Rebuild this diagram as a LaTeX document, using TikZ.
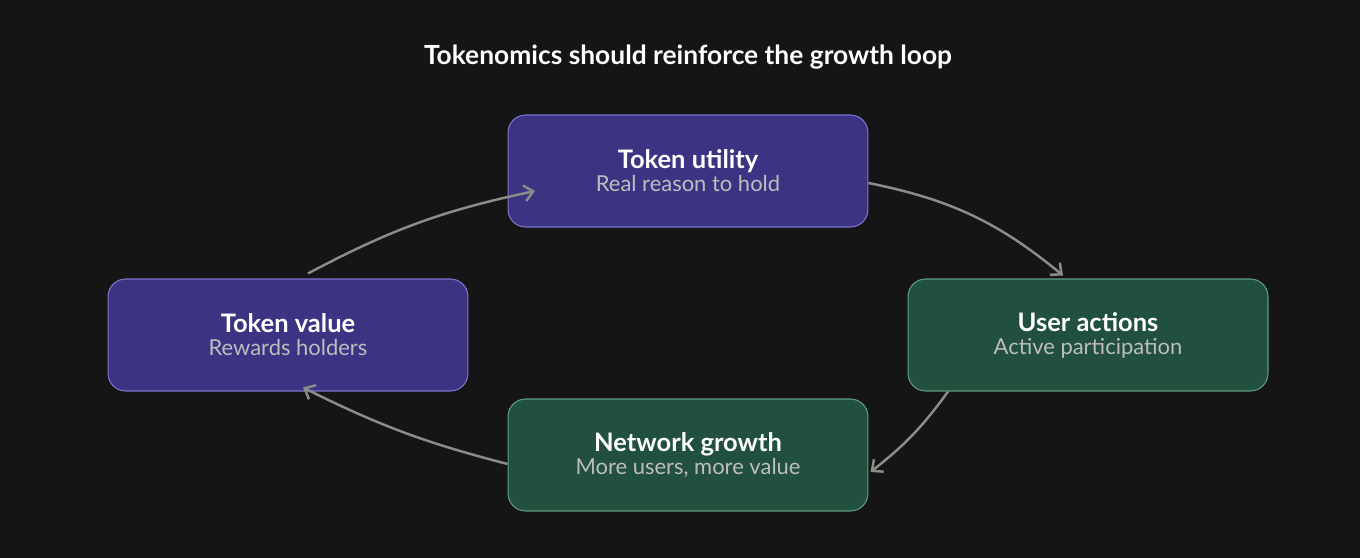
\documentclass[tikz,border=0pt]{standalone}
\usepackage{fontspec}
\setmainfont{Lato}
\usetikzlibrary{positioning,arrows.meta}
\definecolor{bg}{HTML}{151515}
\definecolor{purplefill}{HTML}{3B3483}
\definecolor{purpleline}{HTML}{7E76CC}
\definecolor{greenfill}{HTML}{22503F}
\definecolor{greenline}{HTML}{5E9E82}
\definecolor{arrowgray}{HTML}{8C8C88}
\definecolor{subgray}{HTML}{BDBDBD}
\tikzset{
  box/.style={draw, rounded corners=10pt, line width=0.6pt, minimum width=7.2cm, minimum height=2.24cm, align=center, text=white},
  pbox/.style={box, fill=purplefill, draw=purpleline},
  gbox/.style={box, fill=greenfill, draw=greenline},
  flow/.style={draw=arrowgray, line width=1.4pt, -{Straight Barb[length=5pt,width=9pt]}}
}
\newcommand{\boxtext}[2]{{\fontsize{14.5}{17}\selectfont\bfseries #1}\\[1pt]{\fontsize{12.5}{15}\selectfont\color{subgray}#2}}
\begin{document}
\begin{tikzpicture}[x=0.02cm, y=-0.02cm]
  \fill[bg] (0,0) rectangle (1360,558);
  \useasboundingbox (0,0) rectangle (1360,558);
  \node[text=white, font=\fontsize{15}{18}\selectfont\bfseries] (title) at (688,57) {Tokenomics should reinforce the growth loop};

  \node[pbox] (utility) at (688,171) {\boxtext{Token utility}{Real reason to hold}};
  \node[pbox] (value) at (288,335) {\boxtext{Token value}{Rewards holders}};
  \node[gbox] (actions) at (1088,335) {\boxtext{User actions}{Active participation}};
  \node[gbox] (growth) at (688,455) {\boxtext{Network growth}{More users, more value}};

  \draw[flow] ([xshift=0.4cm,yshift=0.1cm]value.north) to[bend left=8] ([xshift=-3.06cm,yshift=-0.4cm]utility.center);
  \draw[flow] ([yshift=-0.24cm]utility.east) to[bend left=14] ([xshift=-0.5cm,yshift=0.06cm]actions.north);
  \draw[flow] ([xshift=-2.8cm]actions.south) to[bend left=8] ([xshift=0.04cm,yshift=-0.34cm]growth.east);
  \draw[flow] ([yshift=-0.18cm]growth.west) to[bend left=6] ([xshift=0.3cm,yshift=0.08cm]value.south);
\end{tikzpicture}
\end{document}
